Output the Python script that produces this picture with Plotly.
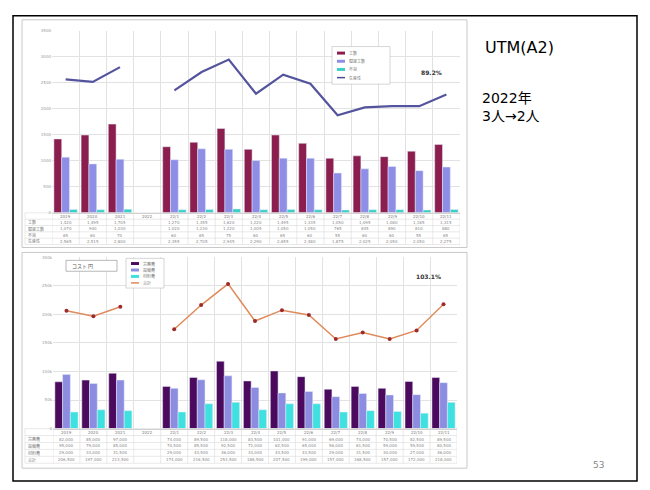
import plotly.graph_objects as go

W, H = 650, 490

categories = ["2019", "2020", "2021", "2022", "22/1", "22/2", "22/3", "22/4", "22/5",
              "22/6", "22/7", "22/8", "22/9", "22/10", "22/11"]

# Top chart (UTM)
top_line = [2565, 2515, 2800, None, 2355, 2705, 2945, 2290, 2655, 2480, 1875, 2025, 2050, 2050, 2275]
top_red = [1420, 1495, 1705, None, 1270, 1355, 1620, 1220, 1495, 1335, 1050, 1095, 1080, 1185, 1315]
top_blue = [1070, 940, 1030, None, 1020, 1230, 1220, 1005, 1050, 1050, 765, 845, 890, 810, 880]
top_teal = [65, 60, 70, None, 60, 65, 75, 60, 65, 60, 55, 60, 60, 55, 65]
top_names = ["工数", "間接工数", "不良", "生産性"]
top_ticks = [0, 500, 1000, 1500, 2000, 2500, 3000, 3500]

# Bottom chart (cost)
bot_line = [206500, 197000, 213500, None, 174000, 216500, 253500, 188500, 207500, 199000,
            157000, 168500, 157000, 172000, 218000]
bot_purple = [82000, 85000, 97000, None, 74000, 89500, 118000, 83500, 101000, 91000,
              69000, 74000, 70500, 82500, 89500]
bot_lav = [95000, 79000, 85000, None, 70500, 85500, 92500, 72000, 62500, 65000,
           56000, 61500, 59000, 59500, 80500]
bot_cyan = [29000, 33000, 31500, None, 29000, 43500, 46000, 33000, 43500, 43500,
            29000, 31500, 30000, 27000, 46000]
bot_names = ["労務費", "設備費", "材料費", "合計"]
bot_ticks = [0, 50000, 100000, 150000, 200000, 250000, 300000]

top_colors = ["#8B1E4E", "#8E8EE6", "#3CCFC8", "#4A4A9E"]
bot_colors = ["#4B0A5E", "#8C8CE0", "#3EE0E0", "#E08A5A"]

xs = list(range(len(categories)))


def px(x):
    return x / W


def py(y):
    return 1 - y / H


fig = go.Figure()

for vals, name, col in zip([top_red, top_blue, top_teal], top_names, top_colors):
    fig.add_trace(go.Bar(x=xs, y=vals, name=name, marker_color=col, xaxis="x", yaxis="y"))
fig.add_trace(go.Scatter(x=xs, y=top_line, name=top_names[3], mode="lines",
                         line=dict(color="#54549E", width=2.2), connectgaps=False,
                         xaxis="x", yaxis="y"))

for vals, name, col in zip([bot_purple, bot_lav, bot_cyan], bot_names, bot_colors):
    fig.add_trace(go.Bar(x=xs, y=vals, name=name, marker_color=col, xaxis="x2", yaxis="y2"))
fig.add_trace(go.Scatter(x=xs, y=bot_line, name=bot_names[3], mode="lines+markers",
                         line=dict(color=bot_colors[3], width=1.5),
                         marker=dict(color="#9E2A2A", size=4), connectgaps=False,
                         xaxis="x2", yaxis="y2"))


def fmt(v):
    return "" if v is None else f"{v:,}"


shapes = []
anns = []
GRID = "#DADADA"


def add_table(xref, x_left, x_right, y_top, y_bot, names, series):
    nrows = len(names) + 1
    rh = (y_bot - y_top) / nrows
    for r in range(nrows + 1):
        yy = y_top + r * rh
        shapes.append(dict(type="line", xref="paper", yref="paper", x0=px(x_left), x1=px(x_right),
                           y0=py(yy), y1=py(yy), line=dict(color=GRID, width=0.6)))
    for i in range(len(categories) + 1):
        shapes.append(dict(type="line", xref=xref, yref="paper", x0=i - 0.5, x1=i - 0.5,
                           y0=py(y_top), y1=py(y_bot), line=dict(color=GRID, width=0.6)))
    shapes.append(dict(type="line", xref="paper", yref="paper", x0=px(x_left), x1=px(x_left),
                       y0=py(y_top), y1=py(y_bot), line=dict(color=GRID, width=0.6)))
    for i, c in enumerate(categories):
        anns.append(dict(text=c, xref=xref, yref="paper", x=i, y=py(y_top + rh / 2),
                         font=dict(size=4, color="#777777")))
    for r, (nm, s) in enumerate(zip(names, series)):
        yc = py(y_top + (r + 1.5) * rh)
        anns.append(dict(text=nm, xref="paper", yref="paper", x=px(x_left + 1), y=yc,
                         xanchor="left", font=dict(size=4, color="#777777",
                                                   family="Noto Sans CJK JP")))
        for i in xs:
            anns.append(dict(text=fmt(s[i]), xref=xref, yref="paper", x=i, y=yc,
                             font=dict(size=4, color="#888888")))


add_table("x", 25, 460, 212, 244, top_names, [top_red, top_blue, top_teal, top_line])
add_table("x2", 25, 457, 430, 465, bot_names, [bot_purple, bot_lav, bot_cyan, bot_line])


def add_legend(x0, y0, w, h, names, colors):
    shapes.append(dict(type="rect", xref="paper", yref="paper", x0=px(x0), y0=py(y0),
                       x1=px(x0 + w), y1=py(y0 + h), line=dict(color="#BBBBBB", width=0.6),
                       fillcolor="white", layer="above"))
    n = len(names)
    step = h / (n + 0.6)
    for k, (nm, col) in enumerate(zip(names, colors)):
        yc = y0 + step * (k + 0.8)
        if k < n - 1:
            shapes.append(dict(type="rect", xref="paper", yref="paper", x0=px(x0 + 5),
                               x1=px(x0 + 13), y0=py(yc - 1.5), y1=py(yc + 1.5),
                               fillcolor=col, line=dict(width=0), layer="above"))
        else:
            shapes.append(dict(type="line", xref="paper", yref="paper", x0=px(x0 + 5),
                               x1=px(x0 + 13), y0=py(yc), y1=py(yc),
                               line=dict(color=col, width=1.5), layer="above"))
        anns.append(dict(text=nm, xref="paper", yref="paper", x=px(x0 + 15), y=py(yc),
                         xanchor="left", font=dict(size=4, color="#777777",
                                                   family="Noto Sans CJK JP")))


add_legend(332, 44, 58, 38, top_names, top_colors)
add_legend(126, 258, 38, 30, bot_names, bot_colors)

shapes += [
    dict(type="rect", xref="paper", yref="paper", x0=px(13), y0=py(13), x1=px(637), y1=py(483),
         line=dict(color="black", width=1.5)),
    dict(type="rect", xref="paper", yref="paper", x0=px(22), y0=py(17), x1=px(467), y1=py(247),
         line=dict(color="#C8C8C8", width=1)),
    dict(type="rect", xref="paper", yref="paper", x0=px(22), y0=py(252), x1=px(467), y1=py(470),
         line=dict(color="#C8C8C8", width=1)),
    dict(type="rect", xref="paper", yref="paper", x0=px(66), y0=py(260), x1=px(117), y1=py(271),
         line=dict(color="#999999", width=0.7), fillcolor="white", layer="above"),
]

side_font = "DejaVu Sans, Noto Sans CJK JP"
anns += [
    dict(text="UTM(A2)", xref="paper", yref="paper", x=px(483), y=py(45), xanchor="left",
         font=dict(size=16, color="black", family="DejaVu Sans")),
    dict(text="2022年", xref="paper", yref="paper", x=px(480), y=py(96), xanchor="left",
         font=dict(size=14, color="black", family=side_font)),
    dict(text="3人→2人", xref="paper", yref="paper", x=px(480), y=py(114), xanchor="left",
         font=dict(size=14, color="black", family=side_font)),
    dict(text="53", xref="paper", yref="paper", x=px(606), y=py(467),
         font=dict(size=9, color="#888888", family="DejaVu Sans")),
    dict(text="<b>89.2%</b>", xref="paper", yref="paper", x=px(444), y=py(70),
         font=dict(size=6, color="#333333")),
    dict(text="<b>103.1%</b>", xref="paper", yref="paper", x=px(443), y=py(276),
         font=dict(size=6, color="#333333")),
    dict(text="コスト 円", xref="paper", yref="paper", x=px(70), y=py(265.5), xanchor="left",
         font=dict(size=5, color="#555555", family="Noto Sans CJK JP")),
]
for a in anns:
    a.setdefault("showarrow", False)
    a.setdefault("yanchor", "middle")

xcommon = dict(range=[-0.5, len(categories) - 0.5], tick0=0.5, dtick=1,
               showticklabels=False, showgrid=True, gridcolor="#E2E2E2", gridwidth=1,
               zeroline=False, showline=True, linecolor="#D0D0D0", ticks="")

fig.update_layout(
    width=W, height=H,
    margin=dict(l=0, r=0, t=0, b=0),
    paper_bgcolor="white", plot_bgcolor="white",
    showlegend=False,
    barmode="group", bargap=0.14, bargroupgap=0,
    xaxis=dict(domain=[px(52), px(460)], anchor="y", **xcommon),
    yaxis=dict(domain=[py(212), py(28)], anchor="x", range=[0, 3500], tickvals=top_ticks,
               tickfont=dict(size=4, color="#999999"), showgrid=True,
               gridcolor="#E2E2E2", zeroline=False, ticks=""),
    xaxis2=dict(domain=[px(53), px(457)], anchor="y2", **xcommon),
    yaxis2=dict(domain=[py(430), py(257)], anchor="x2", range=[0, 300000],
                tickvals=bot_ticks, tickfont=dict(size=4, color="#999999"), showgrid=True,
                gridcolor="#E2E2E2", zeroline=False, ticks=""),
    font=dict(family="DejaVu Sans"),
    shapes=shapes,
    annotations=anns,
)

fig.write_html("out.html", config={"displayModeBar": False},
               post_script="document.body.style.margin='0';")
